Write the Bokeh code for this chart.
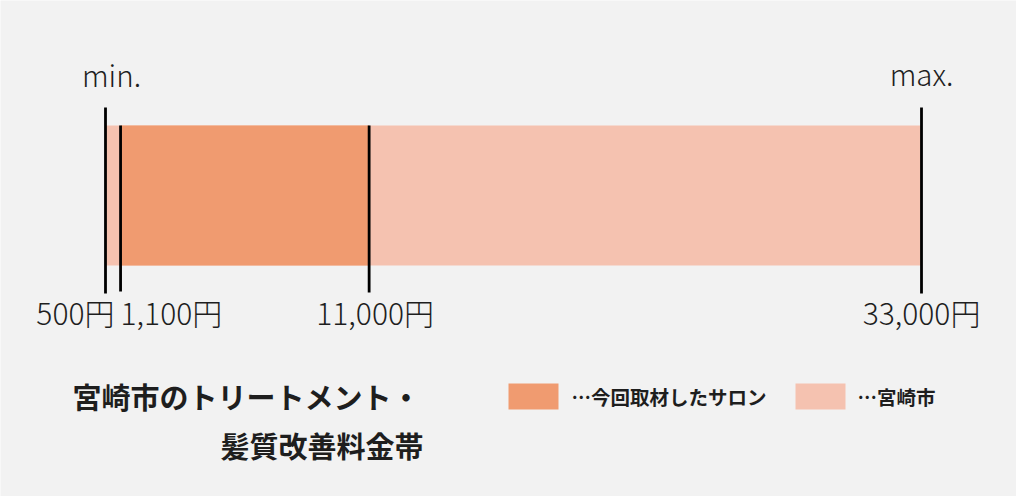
from bokeh.plotting import figure
from bokeh.models import Range1d
from bokeh.core.properties import value
from bokeh.embed import file_html
from bokeh.resources import INLINE

# ---- data ----
city_range = [500, 33000]          # 宮崎市 min / max
salon_range = [1100, 11000]        # 今回取材したサロン
tick_values = [500, 1100, 11000, 33000]
tick_labels = ["500円", "1,100円", "11,000円", "33,000円"]
end_labels = ["min.", "max."]
title_lines = ["宮崎市のトリートメント・", "髪質改善料金帯"]
legend_labels = ["…今回取材したサロン", "…宮崎市"]

# ---- style ----
BG = "#f2f2f2"
DARK = "#f09b70"
LIGHT = "#f5c2b0"
INK = "#1e1e1e"
JP = value("Noto Sans CJK JP")
JP_LIGHT = value("'Noto Sans CJK JP Light', 'Noto Sans CJK JP'")

W, H = 1016, 496
X_LEFT_PX, X_RIGHT_PX = 105, 921
k = (X_RIGHT_PX - X_LEFT_PX) / (city_range[1] - city_range[0])


def px(xp):
    return city_range[0] + (xp - X_LEFT_PX) / k


p = figure(width=W, height=H, output_backend="svg", toolbar_location=None,
           x_range=Range1d(px(0), px(W)), y_range=Range1d(H, 0),
           min_border=0, background_fill_color=BG, border_fill_color=BG)
p.axis.visible = False
p.xgrid.visible = False
p.ygrid.visible = False
p.outline_line_color = None

# bars
p.quad(left=[city_range[0]], right=[city_range[1]], top=[125], bottom=[265],
       fill_color=LIGHT, line_color=None)
p.quad(left=[salon_range[0]], right=[salon_range[1]], top=[125], bottom=[265],
       fill_color=DARK, line_color=None)

# tick lines
tops = [107, 125, 125, 107]
bots = [293, 291, 292, 293]
p.segment(x0=tick_values, x1=tick_values, y0=tops, y1=bots,
          line_color="#000000", line_width=2.8)

# tick labels
aligns = ["right", "left", "center", "center"]
offs = [9, 0, 6, 0]
for v, lab, a, o in zip(tick_values, tick_labels, aligns, offs):
    p.text(x=[v], y=[311], text=[lab], text_align=a, text_baseline="alphabetic",
           x_offset=o, text_font=JP_LIGHT, text_font_size="30px", text_color=INK)

# min / max labels
p.text(x=[city_range[0]], y=[73], text=[end_labels[0]],
       text_align="center", text_baseline="alphabetic", x_offset=6,
       text_font=JP_LIGHT, text_font_size="29.5px", text_color=INK)
p.text(x=[city_range[1]], y=[72], text=[end_labels[1]],
       text_align="center", text_baseline="alphabetic", x_offset=0,
       text_font=JP_LIGHT, text_font_size="29.5px", text_color=INK)

# title
p.text(x=[px(420), px(423)], y=[395, 444], text=title_lines,
       text_align="right", text_baseline="middle", text_font=JP,
       text_font_size="29px", text_font_style="bold", text_color=INK)

# legend
p.quad(left=[px(508), px(795)], right=[px(558), px(845)], top=[383, 383],
       bottom=[409, 409], fill_color=[DARK, LIGHT], line_color=None)
p.text(x=[px(571), px(857)], y=[396, 396], text=legend_labels,
       text_align="left", text_baseline="middle", text_font=JP,
       text_font_size="19.5px", text_font_style="bold", text_color=INK)

open("out.html", "w").write(file_html(p, INLINE))
